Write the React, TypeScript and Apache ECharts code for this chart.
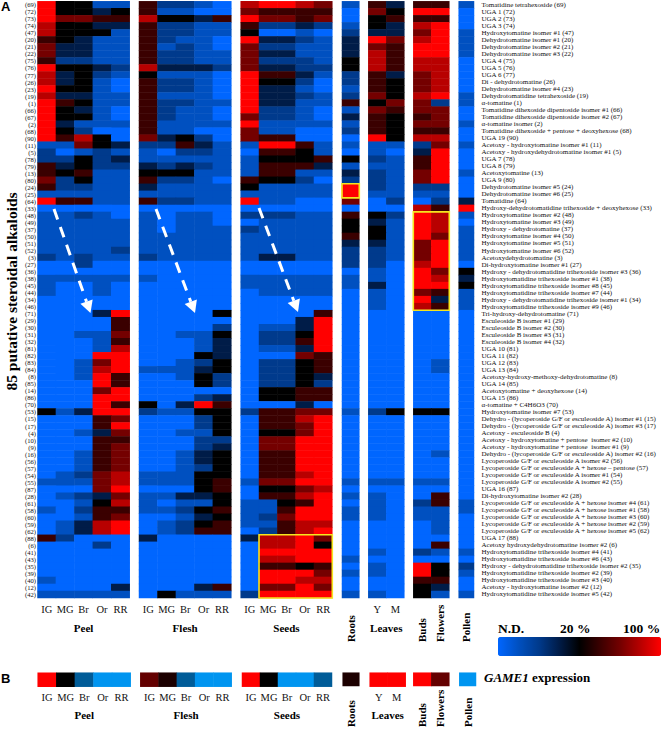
import React, { useEffect, useRef } from "react";
import * as echarts from "echarts";

const stages = ["IG", "MG", "Br", "Or", "RR"];
const leafStages = ["Y", "M"];
const budStages = ["Buds", "Flowers"];

const compoundIds = [69,72,73,74,47,20,21,22,75,76,77,26,23,19,1,66,67,2,68,90,11,5,78,79,13,80,24,25,64,33,48,49,37,50,51,52,3,27,36,38,45,44,34,46,71,29,30,31,32,81,82,83,84,8,85,14,86,70,53,15,17,4,10,9,16,56,57,54,55,87,28,61,58,60,59,62,88,6,41,43,35,39,40,12,42];

const compoundNames = [
  "Tomatidine tetrahexoside (69)","UGA 1 (72)","UGA 2 (73)","UGA 3 (74)","Hydroxytomatine isomer #1 (47)",
  "Dehydrotomatine isomer #1 (20)","Dehydrotomatine isomer #2 (21)","Dehydrotomatine isomer #3 (22)","UGA 4 (75)","UGA 5 (76)",
  "UGA 6 (77)","Di - dehydrotomatine (26)","Dehydrotomatine isomer #4 (23)","Dehydrotomatidine tetrahexoside (19)","α-tomatine (1)",
  "Tomatidine dihexoside dipentoside isomer #1 (66)","Tomatidine dihexoside dipentoside isomer #2 (67)","α-tomatine isomer (2)","Tomatidine dihexoside + pentose + deoxyhexose (68)","UGA 19 (90)",
  "Acetoxy - hydroxytomatine isomer #1 (11)","Acetoxy - hydroxydehydrotomatine isomer #1 (5)","UGA 7 (78)","UGA 8 (79)","Acetoxytomatine (13)",
  "UGA 9 (80)","Dehydrotomatine isomer #5 (24)","Dehydrotomatine isomer #6 (25)","Tomatidine (64)","Hydroxy-dehydrotomatidine trihexoside + deoxyhexose (33)",
  "Hydroxytomatine isomer #2 (48)","Hydroxytomatine isomer #3 (49)","Hydroxy - dehydrotomatine (37)","Hydroxytomatine isomer #4 (50)","Hydroxytomatine isomer #5 (51)",
  "Hydroxytomatine isomer #6 (52)","Acetoxydehydrotomatine (3)","Di-hydroxytomatine isomer #1 (27)","Hydroxy - dehydrotomatidine trihexoside isomer #3 (36)","Hydroxytomatidine trihexoside isomer #1 (38)",
  "Hydroxytomatidine trihexoside isomer #8 (45)","Hydroxytomatidine trihexoside isomer #7 (44)","Hydroxy - dehydrotomatidine trihexoside isomer #1 (34)","Hydroxytomatidine trihexoside isomer #9 (46)","Tri-hydroxy-dehydrotomatine (71)",
  "Esculeoside B isomer #1 (29)","Esculeoside B isomer #2 (30)","Esculeoside B isomer #3 (31)","Esculeoside B isomer #4 (32)","UGA 10 (81)",
  "UGA 11 (82)","UGA 12 (83)","UGA 13 (84)","Acetoxy-hydroxy-methoxy-dehydrotomatine (8)","UGA 14 (85)",
  "Acetoxytomatine + deoxyhexose (14)","UGA 15 (86)","α-tomatine + C4H6O3 (70)","Hydroxytomatine isomer #7 (53)","Dehydro - (lycoperoside G/F or esculeoside A) isomer #1 (15)",
  "Dehydro - (lycoperoside G/F or esculeoside A) isomer #3 (17)","Acetoxy - esculeoside B (4)","Acetoxy - hydroxytomatine + pentose  isomer #2 (10)","Acetoxy - hydroxytomatine + pentose  isomer #1 (9)","Dehydro - (lycoperoside G/F or esculeoside A) isomer #2 (16)",
  "Lycoperoside G/F or esculeoside A isomer #2 (56)","Lycoperoside G/F or esculeoside A + hexose – pentose (57)","Lycoperoside G/F or esculeoside A isomer #1 (54)","Lycoperoside G/F or esculeoside A isomer #2 (55)","UGA 16 (87)",
  "Di-hydroxytomatine isomer #2 (28)","Lycoperoside G/F or esculeoside A + hexose isomer #4 (61)","Lycoperoside G/F or esculeoside A + hexose isomer #1 (58)","Lycoperoside G/F or esculeoside A + hexose isomer #3 (60)","Lycoperoside G/F or esculeoside A + hexose isomer #2 (59)",
  "Lycoperoside G/F or esculeoside A + hexose isomer #5 (62)","UGA 17 (88)","Acetoxy hydroxydehydrotomatine isomer #2 (6)","Hydroxytomatidine trihexoside isomer #4 (41)","Hydroxytomatidine trihexoside isomer #6 (43)",
  "Hydroxy - dehydrotomatidine trihexoside isomer #2 (35)","Hydroxytomatidine trihexoside isomer #2 (39)","Hydroxytomatidine trihexoside isomer #3 (40)","Acetoxy - hydroxytomatine isomer #2 (12)","Hydroxytomatidine trihexoside isomer #5 (42)",
];

// Abundance levels: 0 = N.D., 4 = 20 % (black), 8 = 100 % (red)
const peel = [[8,4,4,1,1],[8,4,4,3,4],[8,6,6,5,5],[7,4,4,3,3],[7,4,4,4,1],[5,4,3,1,1],[6,3,3,1,1],[6,3,3,1,1],[5,2,2,1,1],[8,4,4,3,2],[7,3,4,2,1],[7,3,4,1,0],[8,4,4,1,0],[7,3,3,1,1],[8,5,4,1,1],[8,4,3,1,0],[8,4,4,1,0],[8,3,1,1,1],[8,4,2,0,0],[8,5,7,4,0],[1,1,6,4,3],[2,0,1,2,1],[2,2,4,2,3],[5,3,4,2,2],[5,4,5,1,1],[6,2,4,1,1],[5,2,2,1,1],[1,1,1,1,1],[8,5,5,1,1],[0,0,0,0,0],[1,1,2,1,0],[1,1,1,1,1],[1,1,1,1,1],[1,1,1,1,1],[1,1,1,1,1],[1,1,1,1,2],[2,1,2,1,1],[0,0,2,0,0],[0,0,0,0,0],[1,1,1,1,1],[1,0,0,1,0],[1,0,0,1,0],[0,0,0,0,0],[0,0,0,0,0],[0,0,0,3,8],[0,0,0,0,5],[0,0,0,0,5],[0,0,1,1,6],[0,0,0,1,5],[0,0,0,1,7],[0,0,0,8,8],[0,0,1,6,8],[0,0,1,7,8],[0,0,1,8,5],[0,0,0,8,5],[0,0,0,6,8],[0,0,0,8,8],[0,0,0,8,5],[4,1,3,8,8],[0,0,0,5,6],[0,0,0,5,8],[0,0,1,3,6],[0,0,0,5,5],[0,0,0,5,6],[0,0,1,5,6],[0,0,1,5,6],[0,0,1,5,6],[0,1,2,6,7],[1,1,1,6,7],[0,0,0,6,8],[0,1,2,3,6],[0,0,1,4,7],[1,0,2,5,5],[0,0,1,5,6],[0,1,3,7,8],[0,1,3,7,8],[5,2,0,0,0],[0,0,0,2,0],[0,0,0,0,0],[0,0,0,0,0],[0,0,0,0,0],[0,0,0,0,0],[1,0,0,0,0],[0,0,0,0,3],[1,1,1,1,1]];

const flesh = [[5,2,2,1,0],[5,1,1,0,0],[7,4,4,3,5],[5,2,2,1,1],[5,2,2,1,1],[5,2,1,1,0],[5,1,2,1,0],[5,2,2,1,1],[5,2,2,1,1],[7,3,3,3,2],[4,1,1,1,0],[5,2,2,1,0],[5,2,2,1,0],[5,1,1,1,0],[5,2,2,1,1],[5,2,1,1,0],[5,2,1,1,0],[5,1,1,1,1],[5,1,1,0,0],[6,3,4,2,0],[2,2,5,3,1],[1,0,2,2,1],[1,1,1,1,1],[3,2,3,2,1],[4,4,4,1,1],[5,2,2,1,0],[3,1,1,1,1],[1,1,1,1,1],[5,2,2,1,1],[0,0,0,0,0],[1,0,1,1,0],[1,0,1,1,0],[1,0,1,1,1],[1,1,1,1,1],[1,1,1,1,1],[1,1,1,1,1],[2,1,1,1,1],[0,0,0,0,0],[0,0,0,0,0],[1,0,0,0,0],[0,0,0,0,0],[0,0,0,0,0],[0,0,0,0,0],[0,0,0,0,0],[0,0,0,0,4],[0,0,0,0,0],[0,0,0,0,2],[0,0,1,1,4],[0,0,0,1,3],[0,0,0,1,3],[0,0,0,4,3],[0,0,1,2,4],[1,1,1,3,4],[0,0,1,4,2],[0,0,0,4,2],[0,0,0,0,0],[0,0,0,2,3],[4,0,3,8,5],[2,1,1,4,4],[0,0,0,2,4],[0,0,0,2,4],[0,0,1,1,4],[0,0,0,2,2],[0,0,0,2,3],[0,0,1,3,4],[0,0,1,3,4],[0,0,1,2,4],[1,1,1,4,4],[1,1,1,4,5],[0,0,0,4,5],[1,1,3,3,4],[1,0,1,1,4],[1,1,2,4,5],[0,0,1,3,4],[0,1,2,4,5],[0,1,2,5,5],[3,0,0,0,0],[0,0,0,0,0],[0,0,0,0,0],[0,0,0,0,0],[0,0,0,0,0],[0,0,0,0,0],[0,0,0,0,0],[0,0,0,3,5],[0,4,1,1,1]];

const seeds = [[7,8,8,7,6],[6,5,5,5,5],[8,6,6,5,6],[5,2,2,3,2],[4,0,0,1,0],[8,3,3,2,1],[6,2,2,1,1],[6,3,3,1,1],[6,2,2,2,1],[6,3,3,2,2],[8,5,5,3,1],[8,4,4,2,0],[8,3,3,1,0],[8,3,3,2,1],[8,3,3,1,1],[8,2,2,1,0],[6,2,2,1,0],[8,1,1,1,1],[6,1,1,0,0],[6,5,5,0,0],[1,8,8,5,1],[0,5,5,4,1],[1,4,4,4,5],[1,5,5,5,3],[1,5,5,1,1],[5,4,4,2,0],[4,1,1,1,1],[1,1,1,1,1],[8,1,1,0,0],[0,0,0,0,0],[2,2,2,1,1],[0,1,1,1,1],[2,1,1,1,1],[1,1,1,1,1],[1,1,1,1,1],[1,1,1,1,1],[1,3,3,1,1],[0,0,0,0,0],[0,0,0,0,0],[1,1,1,1,1],[1,1,1,1,1],[0,1,1,1,1],[0,0,0,0,0],[0,0,0,0,0],[0,0,0,0,5],[0,0,0,3,8],[0,1,1,3,8],[0,2,2,4,8],[0,2,2,5,8],[0,1,1,3,8],[0,0,0,6,5],[0,2,2,4,5],[0,2,2,4,5],[0,2,2,4,3],[0,2,2,4,2],[0,4,4,5,5],[0,4,4,5,5],[0,0,0,3,0],[2,5,5,6,6],[0,5,5,7,8],[0,5,5,6,8],[0,4,4,6,8],[0,6,6,8,8],[0,6,6,8,8],[0,5,5,8,8],[0,5,5,8,8],[0,5,5,8,8],[0,5,5,7,8],[1,6,6,8,8],[0,4,4,6,7],[0,5,5,7,8],[1,1,4,5,8],[1,1,5,8,8],[1,2,6,8,8],[1,1,5,7,7],[0,2,5,7,8],[3,7,7,8,6],[0,7,7,8,4],[0,8,8,8,8],[0,7,7,8,8],[0,5,5,4,5],[0,8,8,8,6],[0,8,8,7,7],[0,6,6,8,6],[2,8,8,8,8]];

const roots = [[1],[0],[0],[1],[2],[3],[3],[3],[4],[4],[2],[2],[1],[2],[5],[1],[3],[1],[2],[0],[1],[0],[4],[1],[3],[2],[8],[8],[6],[0],[5],[4],[4],[5],[3],[2],[2],[2],[0],[1],[1],[0],[0],[0],[0],[0],[0],[0],[0],[0],[0],[0],[0],[0],[0],[0],[0],[0],[1],[0],[0],[0],[0],[0],[0],[0],[0],[0],[1],[0],[1],[0],[1],[1],[0],[0],[0],[0],[0],[1],[0],[1],[0],[0],[1]];

const leaves = [[5,3],[6,4],[4,5],[4,3],[3,3],[8,6],[6,5],[7,5],[7,5],[7,5],[5,3],[5,4],[5,4],[6,4],[4,6],[6,5],[5,4],[5,4],[5,4],[8,4],[1,1],[1,0],[2,1],[1,1],[2,1],[2,1],[2,1],[1,1],[0,2],[0,0],[4,2],[3,1],[4,1],[4,1],[3,1],[2,1],[2,1],[2,0],[1,0],[1,0],[3,0],[1,0],[1,0],[1,0],[0,0],[0,0],[0,0],[0,0],[0,0],[0,0],[0,0],[0,0],[0,0],[0,0],[0,0],[0,0],[0,0],[0,0],[2,4],[0,0],[0,0],[0,0],[0,0],[0,0],[0,0],[0,0],[0,0],[0,0],[1,1],[0,0],[1,0],[1,0],[1,0],[1,0],[0,0],[0,0],[0,0],[0,0],[1,0],[0,0],[1,0],[1,0],[0,0],[0,0],[1,0]];

const budsFlowers = [[5,5],[8,8],[5,5],[7,8],[6,8],[7,8],[8,8],[8,8],[7,7],[7,7],[6,7],[6,7],[6,7],[7,8],[6,2],[6,6],[5,6],[6,6],[5,5],[7,7],[2,6],[3,8],[5,8],[5,8],[6,8],[6,8],[2,2],[1,1],[0,2],[7,5],[8,7],[8,7],[8,7],[8,6],[6,8],[6,8],[6,8],[7,8],[8,6],[8,7],[8,8],[6,5],[8,3],[7,5],[0,0],[0,0],[0,0],[0,0],[0,0],[0,0],[0,0],[0,1],[0,1],[0,0],[0,0],[0,0],[0,0],[0,0],[4,4],[0,0],[0,0],[0,0],[0,0],[0,0],[0,1],[0,0],[0,0],[0,0],[1,1],[0,0],[0,5],[2,5],[1,1],[1,1],[0,1],[0,1],[0,0],[0,5],[2,1],[0,0],[8,4],[8,4],[5,5],[4,3],[4,1]];

const pollen = [[1],[0],[0],[0],[1],[1],[1],[1],[0],[0],[0],[0],[0],[1],[1],[0],[0],[1],[0],[0],[1],[0],[0],[0],[1],[0],[0],[0],[3],[8],[1],[0],[1],[1],[1],[1],[1],[0],[4],[3],[4],[1],[1],[1],[0],[0],[0],[0],[0],[0],[0],[0],[0],[0],[0],[0],[0],[0],[0],[0],[0],[0],[0],[0],[0],[0],[0],[0],[0],[0],[0],[1],[1],[0],[0],[0],[0],[0],[1],[0],[2],[1],[0],[0],[1]];

// GAME1 expression (panel B), one row per tissue
const game1Peel = [8, 4, 2, 0, 0];
const game1Flesh = [6, 5, 2, 0, 0];
const game1Seeds = [8, 4, 0, 0, 2];
const game1Roots = [5];
const game1Leaves = [8, 8];
const game1Buds = [8, 6];
const game1Pollen = [0];

const heatColors = ["#0066ff","#0050c0","#003a8c","#001c48","#000000","#3a0000","#740000","#b80000","#ff0000"];
const game1Colors = ["#0095f0","#0078c4","#005c98","#002c48","#000000","#1c0000","#640000","#b00000","#ff0000"];

const SERIF = "'Liberation Serif', serif";

// Panels: title, column names, values, left, right edge in pixels for A and B
const panels = [
  { title: "Peel", cols: stages, values: peel, game: game1Peel, a: [37.5, 129.7], b: [37.7, 130.7], kind: "stage" },
  { title: "Flesh", cols: stages, values: flesh, game: game1Flesh, a: [139, 231.3], b: [140.3, 231.7], kind: "stage" },
  { title: "Seeds", cols: stages, values: seeds, game: game1Seeds, a: [240.7, 332.3], b: [242, 332], kind: "stage" },
  { title: "", cols: ["Roots"], values: roots, game: game1Roots, a: [342, 359.3], b: [342.7, 359.3], kind: "rot" },
  { title: "Leaves", cols: leafStages, values: leaves, game: game1Leaves, a: [368.3, 404.3], b: [369.7, 405.7], kind: "stage" },
  { title: "", cols: budStages, values: budsFlowers, game: game1Buds, a: [413.3, 449.3], b: [413.3, 449.3], kind: "rot" },
  { title: "", cols: ["Pollen"], values: pollen, game: game1Pollen, a: [458.7, 474], b: [459.3, 476], kind: "rot" },
];

// Yellow boxes: panel index, first and last column, first and last compound
const highlightBoxes = [
  { panel: 2, from: "MG", to: "RR", top: 88, bottom: 42 },
  { panel: 3, from: "Roots", to: "Roots", top: 24, bottom: 25 },
  { panel: 5, from: "Buds", to: "Flowers", top: 48, bottom: 46 },
];

const arrows = [
  [[54, 209], [90.5, 313]],
  [[156, 209], [195, 313]],
  [[259, 208], [298, 312]],
];

const A_TOP = 1.3;
const A_BOTTOM = 598;
const B_TOP = 672.7;
const B_BOTTOM = 686.7;
const PAGE_W = 662;
const PAGE_H = 730;

function buildOption() {
  const grids: any[] = [];
  const xAxes: any[] = [];
  const yAxes: any[] = [];
  const series: any[] = [];
  const heatIdx: number[] = [];
  const gameIdx: number[] = [];
  const baseX = {
    type: "category",
    axisLine: { show: false },
    axisTick: { show: false },
    splitLine: { show: false },
  };

  panels.forEach((p, i) => {
    const lastPanel = i === panels.length - 1;
    // Panel A
    grids.push({ left: p.a[0], width: p.a[1] - p.a[0], top: A_TOP, height: A_BOTTOM - A_TOP, containLabel: false });
    xAxes.push({
      ...baseX,
      gridIndex: grids.length - 1,
      position: "bottom",
      data: p.cols,
      axisLabel: p.kind === "stage"
        ? { interval: 0, margin: 6, fontFamily: SERIF, fontSize: 10.5, color: "#111" }
        : { interval: 0, rotate: 90, align: "left", verticalAlign: "middle", margin: 44, fontFamily: SERIF, fontSize: 11, fontWeight: "bold", color: "#000" },
      name: p.title,
      nameLocation: "middle",
      nameGap: 24,
      nameTextStyle: { fontFamily: SERIF, fontSize: 11, fontWeight: "bold", color: "#000" },
    });
    yAxes.push({
      type: "category",
      gridIndex: grids.length - 1,
      inverse: true,
      position: lastPanel ? "right" : "left",
      data: lastPanel ? compoundNames : compoundIds.map((n) => `(${n})`),
      axisLine: { show: false },
      axisTick: { show: false },
      splitLine: { show: false },
      axisLabel: {
        show: i === 0 || lastPanel,
        interval: 0,
        margin: lastPanel ? 7.5 : 1.5,
        fontFamily: SERIF,
        fontSize: lastPanel ? 7 : 6.6,
        color: "#111",
      },
    });
    const cells: number[][] = [];
    p.values.forEach((row: number[], r: number) => row.forEach((v: number, c: number) => cells.push([c, r, v])));
    heatIdx.push(series.length);
    series.push({
      type: "heatmap",
      xAxisIndex: xAxes.length - 1,
      yAxisIndex: yAxes.length - 1,
      data: cells,
      progressive: 0,
      itemStyle: { borderWidth: 0 },
      emphasis: { disabled: true },
    });

    // Yellow highlight boxes, placed through the panel's own axes
    const boxes = highlightBoxes.filter((b) => b.panel === i);
    if (boxes.length) {
      const cols = p.cols;
      series.push({
        type: "custom",
        xAxisIndex: xAxes.length - 1,
        yAxisIndex: yAxes.length - 1,
        data: boxes.map((b) => [cols.indexOf(b.from), cols.indexOf(b.to), compoundIds.indexOf(b.top), compoundIds.indexOf(b.bottom)]),
        z: 5,
        silent: true,
        renderItem: (_: any, api: any) => {
          const bandW = api.size([1, 0])[0];
          const bandH = api.size([0, 1])[1];
          const a = api.coord([api.value(0), api.value(2)]);
          const b = api.coord([api.value(1), api.value(3)]);
          return {
            type: "rect",
            shape: { x: a[0] - bandW / 2, y: a[1] - bandH / 2, width: b[0] - a[0] + bandW, height: b[1] - a[1] + bandH },
            style: { fill: "none", stroke: "#f5e61e", lineWidth: 1.6 },
          };
        },
      });
    }

    // Panel B
    grids.push({ left: p.b[0], width: p.b[1] - p.b[0], top: B_TOP, height: B_BOTTOM - B_TOP, containLabel: false });
    xAxes.push({
      ...baseX,
      gridIndex: grids.length - 1,
      position: "bottom",
      data: p.cols,
      axisLabel: p.kind === "stage"
        ? { interval: 0, margin: 5, fontFamily: SERIF, fontSize: 10.5, color: "#111" }
        : { interval: 0, rotate: 90, align: "left", verticalAlign: "middle", margin: 41, fontFamily: SERIF, fontSize: 11, fontWeight: "bold", color: "#000" },
      name: p.title,
      nameLocation: "middle",
      nameGap: 23,
      nameTextStyle: { fontFamily: SERIF, fontSize: 11, fontWeight: "bold", color: "#000" },
    });
    yAxes.push({
      type: "category",
      gridIndex: grids.length - 1,
      data: ["GAME1"],
      axisLine: { show: false },
      axisTick: { show: false },
      axisLabel: { show: false },
      splitLine: { show: false },
    });
    gameIdx.push(series.length);
    series.push({
      type: "heatmap",
      xAxisIndex: xAxes.length - 1,
      yAxisIndex: yAxes.length - 1,
      data: p.game.map((v: number, c: number) => [c, 0, v]),
      itemStyle: { borderWidth: 0 },
      emphasis: { disabled: true },
    });
  });

  const graphic: any[] = [
    { type: "text", x: 1, y: 0, style: { text: "A", font: "bold 13px 'Liberation Sans', sans-serif", fill: "#000" } },
    { type: "text", x: 1, y: 672, style: { text: "B", font: "bold 13px 'Liberation Sans', sans-serif", fill: "#000" } },
    {
      type: "text",
      x: 11,
      y: 291.5,
      rotation: Math.PI / 2,
      style: { text: "85 putative steroidal alkaloids", font: `bold 15.5px ${SERIF}`, fill: "#000", align: "center", verticalAlign: "middle" },
    },
    { type: "text", x: 498, y: 621, style: { text: "N.D.", font: `bold 13.5px ${SERIF}`, fill: "#000" } },
    { type: "text", x: 560, y: 621, style: { text: "20 %", font: `bold 13.5px ${SERIF}`, fill: "#000" } },
    { type: "text", x: 623, y: 621, style: { text: "100 %", font: `bold 13.5px ${SERIF}`, fill: "#000" } },
    {
      type: "text",
      x: 484,
      y: 671,
      style: {
        text: "{i|GAME1} expression",
        font: `bold 13px ${SERIF}`,
        fill: "#000",
        rich: { i: { font: `italic bold 13px ${SERIF}`, fill: "#000" } },
      },
    },
  ];
  arrows.forEach(([from, to]) => {
    const dx = to[0] - from[0];
    const dy = to[1] - from[1];
    const len = Math.hypot(dx, dy);
    const ux = dx / len;
    const uy = dy / len;
    const head = 12;
    const baseX0 = to[0] - ux * head;
    const baseY0 = to[1] - uy * head;
    graphic.push({
      type: "line",
      z: 20,
      shape: { x1: from[0], y1: from[1], x2: baseX0, y2: baseY0 },
      style: { stroke: "#fff", lineWidth: 3, lineDash: [11, 8] },
    });
    graphic.push({
      type: "polygon",
      z: 20,
      shape: {
        points: [
          [to[0], to[1]],
          [baseX0 - uy * 6.5, baseY0 + ux * 6.5],
          [baseX0 + uy * 6.5, baseY0 - ux * 6.5],
        ],
      },
      style: { fill: "#fff" },
    });
  });

  return {
    animation: false,
    backgroundColor: "#ffffff",
    grid: grids,
    xAxis: xAxes,
    yAxis: yAxes,
    series,
    graphic,
    visualMap: [
      {
        type: "continuous",
        seriesIndex: heatIdx,
        min: 0,
        max: 8,
        show: true,
        orient: "horizontal",
        left: 498,
        top: 637,
        itemHeight: 163,
        itemWidth: 19,
        padding: 0,
        calculable: false,
        realtime: false,
        showLabel: false,
        text: ["", ""],
        inRange: { color: heatColors },
        outOfRange: { color: heatColors },
      },
      {
        type: "continuous",
        seriesIndex: gameIdx,
        min: 0,
        max: 8,
        show: false,
        inRange: { color: game1Colors },
      },
    ],
  };
}

export default function App() {
  const ref = useRef<HTMLDivElement>(null);
  useEffect(() => {
    document.body.style.margin = "0";
    const chart = echarts.init(ref.current!, undefined, { renderer: "svg" });
    chart.setOption(buildOption() as any);
    return () => chart.dispose();
  }, []);
  return <div ref={ref} style={{ width: PAGE_W, height: PAGE_H }} />;
}
